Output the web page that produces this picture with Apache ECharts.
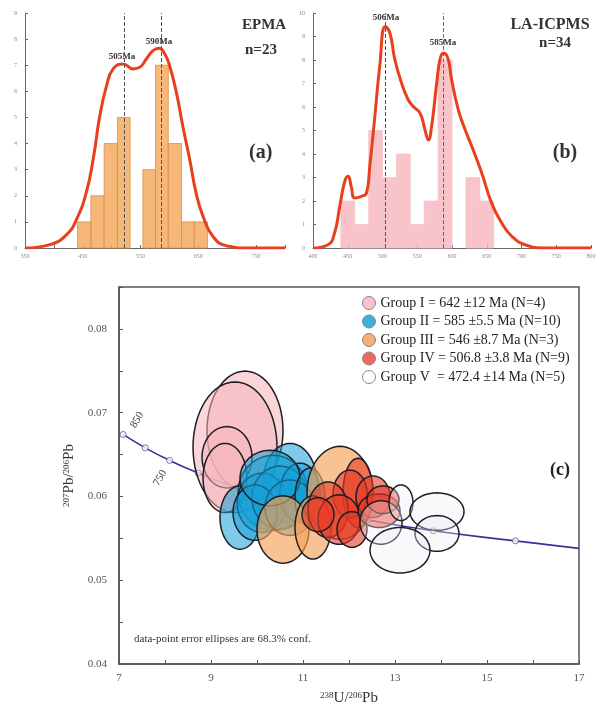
<!DOCTYPE html>
<html><head><meta charset="utf-8">
<script src="https://cdn.jsdelivr.net/npm/echarts@6/dist/echarts.min.js"></script>
<style>html,body{margin:0;padding:0;background:#fff}#c{width:599px;height:711px}</style>
</head><body><div id="c"></div>
<script>
// ---- Panel (a) EPMA ----
const aBinEdges = [441,464,487,510,532,554,576,598,621,643,666];
const aCounts   = [1,2,4,5,0,3,7,4,1,1];
const aKdeX = [350,393,422,439,456,468,479.5,491,502.5,520,537,548.6,560,571.6,582,591.7,600,612,623,635,646,658,675,698,738,800];
const aKdeY = [0,0.13,0.51,1.09,2.12,3.4,5.06,6.2,6.86,7.05,6.86,6.92,7.24,7.56,7.65,7.44,7.0,5.96,4.68,3.4,2.12,1.22,0.45,0.09,0,0];
const aPeaks = [521,585];
const aPeakLabels = ['505Ma','590Ma'];
// ---- Panel (b) LA-ICPMS ----
const bBinEdges = [440,460,480,500,520,540,560,580,600,620,640,660];
const bCounts   = [2,1,5,3,4,1,2,8,0,3,2];
const bKdeX = [400,421.6,431,438.5,445.7,450.5,455,460,469.7,477,481.7,489,496,504,510.6,517.8,527.4,537,544,554,561,566,570.7,578,582.7,587.5,594,599.5,609,618.8,628.4,642.8,657,671.6,686,705,734,800];
const bKdeY = [0,0.14,0.64,1.77,2.84,3.05,2.62,2.13,2.2,2.34,3.48,5.6,7.73,9.43,9.15,8.01,7.02,6.31,6.03,5.74,5.04,4.6,5.18,7.02,8.01,8.3,8.08,7.16,5.89,5.04,4.33,3.19,1.91,1.06,0.5,0.14,0,0];
const bPeaks = [504,587];
const bPeakLabels = ['506Ma','585Ma'];
// ---- Panel (c) Tera-Wasserburg ----
const concX = [7.09,7.57,8.10,8.72,9.43,10.25,11.23,12.40,13.83,15.62,17.0];
const concY = [0.0674,0.0658,0.0643,0.0628,0.0613,0.0599,0.0585,0.0572,0.0559,0.0547,0.0538];
const concMarkerCount = 10; // first 10 points carry age markers (850 ... 400 Ma)
// ellipses: [centre U/Pb, centre Pb/Pb, half-width, half-height]
const groupI = [[9.739,0.06787,0.826,0.00709],[9.522,0.06587,0.913,0.0078],[9.348,0.06468,0.543,0.00366],[9.304,0.0622,0.478,0.00413]];
const groupII = [[10.717,0.06161,0.587,0.00472],[10.348,0.06043,0.761,0.00449],[9.630,0.05748,0.435,0.00378],[10.109,0.05925,0.543,0.00354],[10.5,0.05984,0.609,0.00378],[10.935,0.06043,0.435,0.00354],[9.957,0.05807,0.478,0.00331],[10.717,0.05866,0.543,0.00331],[10.283,0.0622,0.652,0.00331],[11.152,0.05984,0.326,0.00354]];
const groupIII = [[11.804,0.06043,0.717,0.00555],[10.565,0.05606,0.565,0.00402],[11.217,0.0563,0.391,0.00378]];
const groupIV = [[12.196,0.06043,0.326,0.00413],[12.022,0.06031,0.37,0.00283],[12.522,0.05996,0.37,0.00248],[11.543,0.05842,0.435,0.00331],[11.783,0.05724,0.457,0.00295],[12.065,0.05606,0.326,0.00213],[12.652,0.0583,0.457,0.00201],[11.326,0.05783,0.348,0.00201],[12.739,0.05961,0.348,0.00165]];
const groupV = [[12.696,0.05689,0.457,0.0026],[13.13,0.05925,0.261,0.00213],[13.913,0.05819,0.587,0.00224],[13.913,0.05559,0.478,0.00213],[13.109,0.05358,0.652,0.00272]];
const groupNames = ['Group I = 642 ±12 Ma (N=4)','Group II = 585 ±5.5 Ma (N=10)','Group III = 546 ±8.7 Ma (N=3)','Group IV = 506.8 ±3.8 Ma (N=9)','Group V  = 472.4 ±14 Ma (N=5)'];

const chart = echarts.init(document.getElementById('c'));
const serif = 'Liberation Serif';

function histData(edges, counts){
  const out = [];
  counts.forEach((c,i)=>{ if(c>0) out.push([edges[i], edges[i+1], c]); });
  return out;
}
function histItem(params, api){
  const p0 = api.coord([api.value(0), 0]);
  const p1 = api.coord([api.value(1), api.value(2)]);
  return {type:'rect', shape:{x:p0[0], y:p1[1], width:p1[0]-p0[0], height:p0[1]-p1[1]}, style: api.style()};
}
function ellipseItem(params, api){
  const cx = api.value(0), cy = api.value(1), sx = api.value(2), sy = api.value(3);
  const pts = [];
  for(let k=0;k<64;k++){
    const t = k/64*Math.PI*2;
    pts.push(api.coord([cx + sx*Math.cos(t), cy + sy*Math.sin(t)]));
  }
  return {type:'polygon', shape:{points:pts}, style: api.style()};
}
function xy(xs, ys){ return xs.map((x,i)=>[x, ys[i]]); }

const smallLab = {fontSize:6, color:'#888', fontFamily:serif};
const thinLine = {lineStyle:{color:'#666', width:1}};

const groupFill = ['rgba(246,180,186,0.55)','rgba(20,160,215,0.55)','rgba(244,162,88,0.65)','rgba(232,58,40,0.6)','rgba(238,236,242,0.35)'];
const groupIcon = ['#f8c4c8','#3cb0de','#f5ae78','#ee6a60','#ffffff'];
const groups = [groupI, groupII, groupIII, groupIV, groupV];

function peakMark(peaks, color){
  return {symbol:'none', silent:true, label:{show:false},
    lineStyle:{type:'dashed', color:color, width:1},
    data: peaks.map(p=>({xAxis:p}))};
}

const series = [
  {type:'custom', xAxisIndex:0, yAxisIndex:0, renderItem:histItem, data:histData(aBinEdges,aCounts),
   encode:{x:[0,1], y:2}, itemStyle:{color:'rgba(245,172,98,0.85)', borderColor:'#d9904a', borderWidth:0.8}, z:2},
  {type:'line', xAxisIndex:0, yAxisIndex:0, data:xy(aKdeX,aKdeY), smooth:0.5, showSymbol:false,
   lineStyle:{color:'#e8401c', width:3}, z:4, markLine:peakMark(aPeaks,'#555')},
  {type:'custom', xAxisIndex:1, yAxisIndex:1, renderItem:histItem, data:histData(bBinEdges,bCounts),
   encode:{x:[0,1], y:2}, itemStyle:{color:'rgba(246,176,184,0.75)', borderColor:'#f2c6cb', borderWidth:0.8}, z:2},
  {type:'line', xAxisIndex:1, yAxisIndex:1, data:xy(bKdeX,bKdeY), smooth:0.5, showSymbol:false,
   lineStyle:{color:'#e8401c', width:3}, z:4,
   markLine:{symbol:'none', silent:true, label:{show:false}, data:[
     {xAxis:bPeaks[0], lineStyle:{type:'dashed', color:'#555', width:1}},
     {xAxis:bPeaks[1], lineStyle:{type:'dashed', color:'#7a5a9a', width:1}}]}},
  {type:'line', xAxisIndex:2, yAxisIndex:2, data:xy(concX,concY), smooth:true, showSymbol:false,
   lineStyle:{color:'#3b2f9c', width:1.6}, z:1, silent:true},
  {type:'scatter', xAxisIndex:2, yAxisIndex:2, data:xy(concX.slice(0,concMarkerCount),concY.slice(0,concMarkerCount)),
   symbol:'circle', symbolSize:6, itemStyle:{color:'#fff', borderColor:'#5a5a8a', borderWidth:1}, z:1, silent:true}
];
groups.forEach((g,i)=>{
  series.push({type:'custom', name:groupNames[i], xAxisIndex:2, yAxisIndex:2, renderItem:ellipseItem,
    data:g, encode:{x:0, y:1}, clip:true,
    itemStyle:{color:groupFill[i], borderColor:'#1e1e24', borderWidth:1.5}, z:3+i});
});

const option = {
  animation:false,
  backgroundColor:'#fff',
  grid:[
    {left:25, top:13, width:260, height:235},
    {left:313, top:13, width:278, height:235},
    {left:119, top:287, width:460, height:381, show:true, borderColor:'#555', borderWidth:1.5, backgroundColor:'transparent'}
  ],
  xAxis:[
    {gridIndex:0, type:'value', min:350, max:800, interval:50, splitLine:{show:false},
     axisLine:thinLine, axisTick:{inside:true, length:3, lineStyle:{color:'#666'}},
     axisLabel:Object.assign({margin:5, formatter:v=>((v-350)%100===0?String(v):'')}, smallLab)},
    {gridIndex:1, type:'value', min:400, max:800, interval:50, splitLine:{show:false},
     axisLine:thinLine, axisTick:{inside:true, length:3, lineStyle:{color:'#666'}},
     axisLabel:Object.assign({margin:5}, smallLab)},
    {gridIndex:2, type:'value', min:7, max:17, interval:1, splitLine:{show:false},
     axisLine:{lineStyle:{color:'#555', width:1.5}}, axisTick:{inside:true, length:4, lineStyle:{color:'#555'}},
     axisLabel:{margin:9, fontSize:11, color:'#555', fontFamily:serif, formatter:v=>(Math.round(v)%2===1?String(v):'')},
     name:'{s|238}U/{s|206}Pb', nameLocation:'middle', nameGap:27,
     nameTextStyle:{fontFamily:serif, fontSize:15, color:'#333', rich:{s:{fontSize:9, fontFamily:serif, color:'#333', verticalAlign:'top', padding:[0,0,6,0]}}}}
  ],
  yAxis:[
    {gridIndex:0, type:'value', min:0, max:9, interval:1, splitLine:{show:false},
     axisLine:Object.assign({show:true}, thinLine), axisTick:{show:true, inside:true, length:3, lineStyle:{color:'#666'}},
     axisLabel:Object.assign({margin:8}, smallLab)},
    {gridIndex:1, type:'value', min:0, max:10, interval:1, splitLine:{show:false},
     axisLine:Object.assign({show:true}, thinLine), axisTick:{show:true, inside:true, length:3, lineStyle:{color:'#666'}},
     axisLabel:Object.assign({margin:8}, smallLab)},
    {gridIndex:2, type:'value', min:0.04, max:0.085, interval:0.005, splitLine:{show:false},
     axisLine:{show:true, lineStyle:{color:'#555', width:1.5}}, axisTick:{show:true, inside:true, length:4, lineStyle:{color:'#555'}},
     axisLabel:{margin:12, fontSize:11, color:'#555', fontFamily:serif,
       formatter:v=>(Math.round(v*1000)%10===0?v.toFixed(2):'')},
     name:'{s|207}Pb/{s|206}Pb', nameLocation:'middle', nameGap:33, nameRotate:90,
     nameTextStyle:{fontFamily:serif, fontSize:15, color:'#333', rich:{s:{fontSize:9, fontFamily:serif, color:'#333', verticalAlign:'top', padding:[0,0,6,0]}}}}
  ],
  legend:{
    left:362, top:296, orient:'vertical', padding:0, itemGap:4.5, itemWidth:13, itemHeight:13, icon:'circle',
    selectedMode:false,
    textStyle:{fontFamily:serif, fontSize:14, lineHeight:14, color:'#222'},
    data: groupNames.map((n,i)=>({name:n, itemStyle:{color:groupIcon[i], borderColor:'#888', borderWidth:1}}))
  },
  series:series,
  graphic:[
    {type:'text', left:242, top:18, style:{text:'EPMA', font:'bold 15px "Liberation Serif"', fill:'#333'}},
    {type:'text', left:245, top:43, style:{text:'n=23', font:'bold 15px "Liberation Serif"', fill:'#333'}},
    {type:'text', left:249, top:143, style:{text:'(a)', font:'bold 20px "Liberation Serif"', fill:'#333'}},
    {type:'text', x:122, y:57, style:{text:aPeakLabels[0], font:'bold 9px "Liberation Serif"', fill:'#333', align:'center', verticalAlign:'middle'}},
    {type:'text', x:159, y:42, style:{text:aPeakLabels[1], font:'bold 9px "Liberation Serif"', fill:'#333', align:'center', verticalAlign:'middle'}},
    {type:'text', x:550, y:25, style:{text:'LA-ICPMS', font:'bold 16px "Liberation Serif"', fill:'#333', align:'center', verticalAlign:'middle'}},
    {type:'text', x:555, y:43, style:{text:'n=34', font:'bold 15px "Liberation Serif"', fill:'#333', align:'center', verticalAlign:'middle'}},
    {type:'text', x:565, y:153, style:{text:'(b)', font:'bold 20px "Liberation Serif"', fill:'#333', align:'center', verticalAlign:'middle'}},
    {type:'text', x:386, y:18, style:{text:bPeakLabels[0], font:'bold 9px "Liberation Serif"', fill:'#333', align:'center', verticalAlign:'middle'}},
    {type:'text', x:443, y:43, style:{text:bPeakLabels[1], font:'bold 9px "Liberation Serif"', fill:'#333', align:'center', verticalAlign:'middle'}},
    {type:'text', x:560, y:470, style:{text:'(c)', font:'bold 18px "Liberation Serif"', fill:'#222', align:'center', verticalAlign:'middle'}},
    {type:'text', x:137, y:420, rotation:Math.PI/3, style:{text:'850', font:'11px "Liberation Serif"', fill:'#444', align:'center', verticalAlign:'middle'}},
    {type:'text', x:160, y:478, rotation:Math.PI/3, style:{text:'750', font:'11px "Liberation Serif"', fill:'#444', align:'center', verticalAlign:'middle'}},
    {type:'text', left:134, top:634, style:{text:'data-point error ellipses are 68.3% conf.', font:'11px "Liberation Serif"', fill:'#333'}}
  ]
};
chart.setOption(option);
</script></body></html>
